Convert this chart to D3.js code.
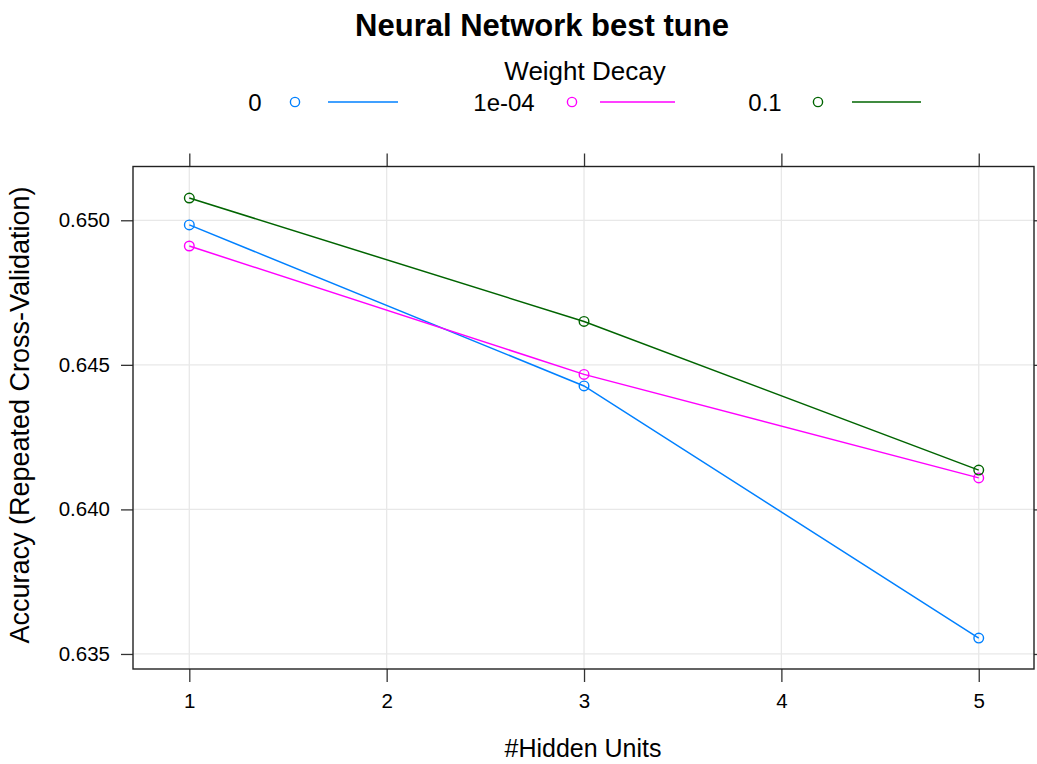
<!DOCTYPE html>
<html>
<head>
<meta charset="utf-8">
<script src="https://cdn.jsdelivr.net/npm/d3@7"></script>
<style>
  html, body { margin: 0; padding: 0; background: #fff; }
  svg text { font-family: "Liberation Sans", Arial, sans-serif; }
</style>
</head>
<body>
<svg id="chart" width="1037" height="764"></svg>
<script>
// Hidden units tried and accuracy for each weight-decay setting
const hiddenUnits = [1, 3, 5];
const decayLabels = ["0", "1e-04", "0.1"];
const accDecay0 = [0.64984, 0.64427, 0.63555];
const accDecay1e4 = [0.64911, 0.64467, 0.64109];
const accDecay01 = [0.65077, 0.64650, 0.64136];
const xTicks = [1, 2, 3, 4, 5];
const yTicks = [0.635, 0.640, 0.645, 0.650];
const seriesColors = ["#0080ff", "#ff00ff", "#006400"];

const series = [accDecay0, accDecay1e4, accDecay01];

const svg = d3.select("#chart");
const box = { left: 133, top: 166.5, right: 1034, bottom: 669 };

const x = d3.scaleLinear().domain([0.7147, 5.28]).range([box.left, box.right]);
const y = d3.scaleLinear().domain([0.63448, 0.65186]).range([box.bottom, box.top]);

// grid
const grid = svg.append("g").attr("stroke", "#e8e8e8").attr("stroke-width", 1.3);
xTicks.forEach(t => grid.append("line")
  .attr("x1", x(t)).attr("x2", x(t)).attr("y1", box.top).attr("y2", box.bottom));
yTicks.forEach(t => grid.append("line")
  .attr("x1", box.left).attr("x2", box.right).attr("y1", y(t)).attr("y2", y(t)));

// axes
const fmt = d3.format(".3f");
const axB = svg.append("g").attr("transform", `translate(0,${box.bottom})`)
  .call(d3.axisBottom(x).tickValues(xTicks).tickSize(13).tickPadding(11).tickFormat(d3.format("d")));
const axT = svg.append("g").attr("transform", `translate(0,${box.top})`)
  .call(d3.axisTop(x).tickValues(xTicks).tickSize(13).tickFormat(""));
const axL = svg.append("g").attr("transform", `translate(${box.left},0)`)
  .call(d3.axisLeft(y).tickValues(yTicks).tickSize(12).tickPadding(11).tickFormat(fmt));
const axR = svg.append("g").attr("transform", `translate(${box.right},0)`)
  .call(d3.axisRight(y).tickValues(yTicks).tickSize(12).tickFormat(""));
[axB, axT, axL, axR].forEach(a => {
  a.select(".domain").remove();
  a.selectAll(".tick line").attr("stroke", "#333").attr("stroke-width", 1.3);
  a.selectAll("text").attr("font-size", 20.5).attr("fill", "#000");
});

// panel border
svg.append("rect")
  .attr("x", box.left).attr("y", box.top)
  .attr("width", box.right - box.left).attr("height", box.bottom - box.top)
  .attr("fill", "none").attr("stroke", "#222").attr("stroke-width", 1.4);

// series
const line = d3.line().x((d, i) => x(hiddenUnits[i])).y(d => y(d));
series.forEach((vals, k) => {
  svg.append("path").datum(vals)
    .attr("d", line).attr("fill", "none")
    .attr("stroke", seriesColors[k]).attr("stroke-width", 1.5);
  svg.append("g").selectAll("circle").data(vals).join("circle")
    .attr("cx", (d, i) => x(hiddenUnits[i])).attr("cy", d => y(d))
    .attr("r", 4.8).attr("fill", "none")
    .attr("stroke", seriesColors[k]).attr("stroke-width", 1.4);
});

// title
svg.append("text").attr("x", 542).attr("y", 36).attr("text-anchor", "middle")
  .attr("font-size", 31).attr("font-weight", "bold").text("Neural Network best tune");

// legend
svg.append("text").attr("x", 585).attr("y", 80).attr("text-anchor", "middle")
  .attr("font-size", 26).text("Weight Decay");
const legendLabelX = [255, 504, 765];
const legendSymX = [295, 572, 818];
const legendLine = [[328, 398], [600, 675], [852, 921]];
const legY = 102;
decayLabels.forEach((lab, k) => {
  svg.append("text").attr("x", legendLabelX[k]).attr("y", legY + 9)
    .attr("text-anchor", "middle").attr("font-size", 24).text(lab);
  svg.append("circle").attr("cx", legendSymX[k]).attr("cy", legY)
    .attr("r", 4.6).attr("fill", "none")
    .attr("stroke", seriesColors[k]).attr("stroke-width", 1.4);
  svg.append("line").attr("x1", legendLine[k][0]).attr("x2", legendLine[k][1])
    .attr("y1", legY).attr("y2", legY)
    .attr("stroke", seriesColors[k]).attr("stroke-width", 1.5);
});

// axis titles
svg.append("text").attr("x", 583).attr("y", 757).attr("text-anchor", "middle")
  .attr("font-size", 25).text("#Hidden Units");
svg.append("text").attr("transform", "translate(29,415) rotate(-90)")
  .attr("text-anchor", "middle").attr("font-size", 27)
  .text("Accuracy (Repeated Cross-Validation)");
</script>
</body>
</html>
